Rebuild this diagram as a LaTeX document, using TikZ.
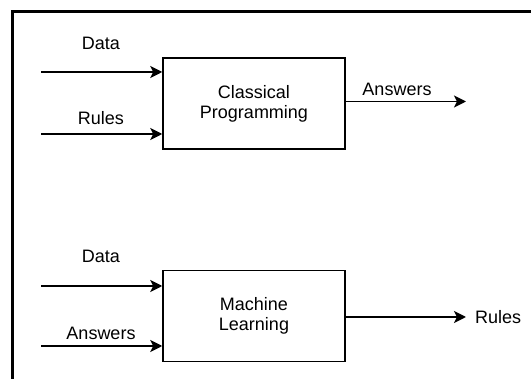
\documentclass[tikz,border=0pt]{standalone}
\usepackage{fontspec}
\setmainfont{Liberation Sans}
\usetikzlibrary{arrows.meta,positioning}

\tikzset{
  block/.style={draw, line width=1.5pt, minimum width=182pt, minimum height=91pt,
    align=center, font=\fontsize{18}{20}\selectfont},
  lbl/.style={font=\fontsize{18}{20}\selectfont, inner sep=0pt},
  flow/.style={line width=1.8pt, -{Stealth[length=12pt,width=12pt,inset=3pt]}}
}

\begin{document}
\begin{tikzpicture}[x=1pt,y=-1pt]
			\useasboundingbox (0,0) rectangle (531,379);
			\draw[line width=3pt] (12,379) -- (12,12) -- (531,12);
			% classical programming
			\node[block] at (254,103.5) (cp) {Classical\\Programming};
			\coordinate (cpdata) at (41,72);
			\coordinate (cprules) at (41,134);
			\coordinate (cpout) at (466,101.5);
			\node[lbl] at (101,43) (cpdatal) {Data};
			\node[lbl] at (101,118) (cprulesl) {Rules};
			\node[lbl] at (397,89) (cpoutl) {Answers};
			\draw[flow] (cpdata) -- (cpdata -| cp.west);
			\draw[flow] (cprules) -- (cprules -| cp.west);
			\draw[flow] (cpout -| cp.east) -- (cpout);
			% machine learning
			\node[block] at (254,316) (ml) {Machine\\Learning};
			\coordinate (mldata) at (41,286);
			\coordinate (mlans) at (41,346);
			\coordinate (mlout) at (466,317);
			\node[lbl] at (101,256) (mldatal) {Data};
			\node[lbl] at (101,333) (mlansl) {Answers};
			\node[lbl, anchor=west] at (475,317) (mloutl) {Rules};
			\draw[flow] (mldata) -- (mldata -| ml.west);
			\draw[flow] (mlans) -- (mlans -| ml.west);
			\draw[flow] (mlout -| ml.east) -- (mlout);
		\end{tikzpicture}
\end{document}
